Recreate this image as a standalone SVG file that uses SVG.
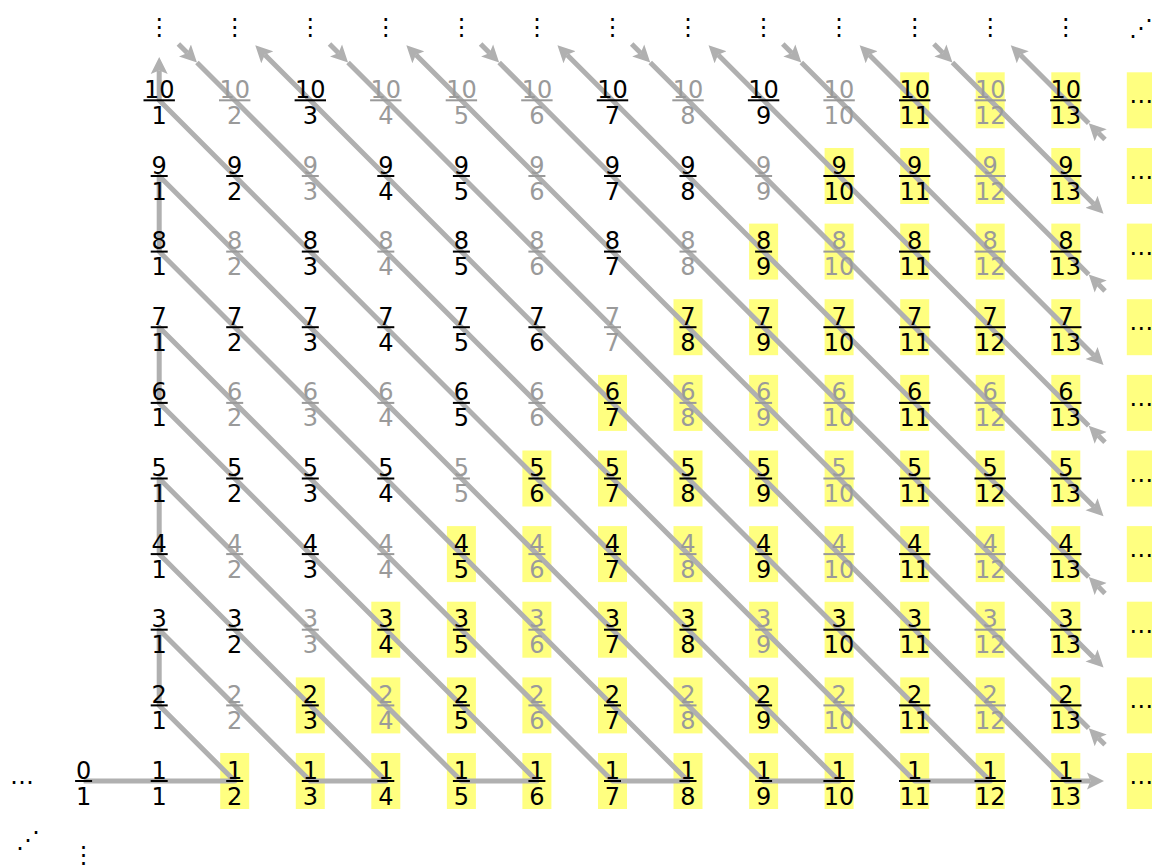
<svg xmlns="http://www.w3.org/2000/svg" xmlns:xlink="http://www.w3.org/1999/xlink" width="1152" height="866" viewBox="0 0 1152 866">
<style>
text{font-family:"DejaVu Sans",Verdana,sans-serif;font-size:24px;text-anchor:middle}
.k{fill:#000}
.g{fill:#9a9a9a}
.c{fill:none;stroke:#b0b0b0;stroke-width:5;stroke-linejoin:round}
.a{marker-end:url(#ah)}
.e{fill:#000}
</style>
<defs>
<marker id="ah" viewBox="0 -9 18 18" refX="3.5" refY="0" markerWidth="18" markerHeight="18" markerUnits="userSpaceOnUse" orient="auto"><path d="M0,-8.5 L17,0 L0,8.5 L3.5,0 Z" fill="#b0b0b0"/></marker>
<rect id="hb" x="-14.5" y="-28" width="29" height="56" fill="#ffff80"/>
<rect id="b1" x="-8.5" y="-1" width="17" height="2"/>
<rect id="b2" x="-15.7" y="-1" width="31.4" height="2"/>
</defs>
<rect width="1152" height="866" fill="#fff"/>
<g id="highlights">
<use href="#hb" x="234.7" y="781"/><use href="#hb" x="310.3" y="781"/><use href="#hb" x="385.8" y="781"/><use href="#hb" x="461.4" y="781"/><use href="#hb" x="536.9" y="781"/><use href="#hb" x="612.5" y="781"/><use href="#hb" x="688" y="781"/><use href="#hb" x="763.6" y="781"/><use href="#hb" x="839.1" y="781"/><use href="#hb" x="914.7" y="781"/><use href="#hb" x="990.2" y="781"/><use href="#hb" x="1065.8" y="781"/>
<use href="#hb" x="310.3" y="705.4"/><use href="#hb" x="385.8" y="705.4"/><use href="#hb" x="461.4" y="705.4"/><use href="#hb" x="536.9" y="705.4"/><use href="#hb" x="612.5" y="705.4"/><use href="#hb" x="688" y="705.4"/><use href="#hb" x="763.6" y="705.4"/><use href="#hb" x="839.1" y="705.4"/><use href="#hb" x="914.7" y="705.4"/><use href="#hb" x="990.2" y="705.4"/><use href="#hb" x="1065.8" y="705.4"/>
<use href="#hb" x="385.8" y="629.7"/><use href="#hb" x="461.4" y="629.7"/><use href="#hb" x="536.9" y="629.7"/><use href="#hb" x="612.5" y="629.7"/><use href="#hb" x="688" y="629.7"/><use href="#hb" x="763.6" y="629.7"/><use href="#hb" x="839.1" y="629.7"/><use href="#hb" x="914.7" y="629.7"/><use href="#hb" x="990.2" y="629.7"/><use href="#hb" x="1065.8" y="629.7"/>
<use href="#hb" x="461.4" y="554.1"/><use href="#hb" x="536.9" y="554.1"/><use href="#hb" x="612.5" y="554.1"/><use href="#hb" x="688" y="554.1"/><use href="#hb" x="763.6" y="554.1"/><use href="#hb" x="839.1" y="554.1"/><use href="#hb" x="914.7" y="554.1"/><use href="#hb" x="990.2" y="554.1"/><use href="#hb" x="1065.8" y="554.1"/>
<use href="#hb" x="536.9" y="478.5"/><use href="#hb" x="612.5" y="478.5"/><use href="#hb" x="688" y="478.5"/><use href="#hb" x="763.6" y="478.5"/><use href="#hb" x="839.1" y="478.5"/><use href="#hb" x="914.7" y="478.5"/><use href="#hb" x="990.2" y="478.5"/><use href="#hb" x="1065.8" y="478.5"/>
<use href="#hb" x="612.5" y="402.9"/><use href="#hb" x="688" y="402.9"/><use href="#hb" x="763.6" y="402.9"/><use href="#hb" x="839.1" y="402.9"/><use href="#hb" x="914.7" y="402.9"/><use href="#hb" x="990.2" y="402.9"/><use href="#hb" x="1065.8" y="402.9"/>
<use href="#hb" x="688" y="327.2"/><use href="#hb" x="763.6" y="327.2"/><use href="#hb" x="839.1" y="327.2"/><use href="#hb" x="914.7" y="327.2"/><use href="#hb" x="990.2" y="327.2"/><use href="#hb" x="1065.8" y="327.2"/>
<use href="#hb" x="763.6" y="251.6"/><use href="#hb" x="839.1" y="251.6"/><use href="#hb" x="914.7" y="251.6"/><use href="#hb" x="990.2" y="251.6"/><use href="#hb" x="1065.8" y="251.6"/>
<use href="#hb" x="839.1" y="176"/><use href="#hb" x="914.7" y="176"/><use href="#hb" x="990.2" y="176"/><use href="#hb" x="1065.8" y="176"/>
<use href="#hb" x="914.7" y="100.3"/><use href="#hb" x="990.2" y="100.3"/><use href="#hb" x="1065.8" y="100.3"/>
<use href="#hb" x="1141.3" y="781"/><use href="#hb" x="1141.3" y="705.4"/><use href="#hb" x="1141.3" y="629.7"/><use href="#hb" x="1141.3" y="554.1"/><use href="#hb" x="1141.3" y="478.5"/><use href="#hb" x="1141.3" y="402.9"/><use href="#hb" x="1141.3" y="327.2"/><use href="#hb" x="1141.3" y="251.6"/><use href="#hb" x="1141.3" y="176"/><use href="#hb" x="1141.3" y="100.3"/>
</g>
<g id="connectors">
<path class="c a" d="M83.6,781 L159.2,781 L234.7,781 L159.2,705.4 L159.2,629.7 L310.3,781 L385.8,781 L159.2,554.1 L159.2,478.5 L461.4,781 L536.9,781 L159.2,402.9 L159.2,327.2 L612.5,781 L688,781 L159.2,251.6 L159.2,176 L763.6,781 L839.1,781 L159.2,100.3 L159.2,70.5"/>
<path class="c a" d="M178.4,44 L187.4,53"/>
<path class="c a" d="M196.95,62.5 L234.7,100.3 L914.7,781 L990.2,781 L310.3,100.3 L264.8,54.8"/>
<path class="c a" d="M329.5,44 L338.5,53"/>
<path class="c a" d="M348.05,62.5 L385.8,100.3 L1065.8,781 L1090.5,781"/>
<path class="c a" d="M1105,744.7 L1098.25,737.9"/>
<path class="c a" d="M1088.7,728.35 L1065.8,705.4 L461.4,100.3 L415.9,54.8"/>
<path class="c a" d="M480.6,44 L489.6,53"/>
<path class="c a" d="M499.15,62.5 L536.9,100.3 L1065.8,629.7 L1094,657.95"/>
<path class="c a" d="M1105,593.4 L1098.25,586.6"/>
<path class="c a" d="M1088.7,577.05 L1065.8,554.1 L612.5,100.3 L567,54.8"/>
<path class="c a" d="M631.7,44 L640.7,53"/>
<path class="c a" d="M650.25,62.5 L688,100.3 L1065.8,478.5 L1094,506.75"/>
<path class="c a" d="M1105,442.2 L1098.25,435.4"/>
<path class="c a" d="M1088.7,425.85 L1065.8,402.9 L763.6,100.3 L718.1,54.8"/>
<path class="c a" d="M782.8,44 L791.8,53"/>
<path class="c a" d="M801.35,62.5 L839.1,100.3 L1065.8,327.2 L1094,355.45"/>
<path class="c a" d="M1105,290.9 L1098.25,284.1"/>
<path class="c a" d="M1088.7,274.55 L1065.8,251.6 L914.7,100.3 L869.2,54.8"/>
<path class="c a" d="M933.9,44 L942.9,53"/>
<path class="c a" d="M952.45,62.5 L990.2,100.3 L1065.8,176 L1094,204.25"/>
<path class="c a" d="M1105,139.6 L1098.25,132.8"/>
<path class="c a" d="M1088.7,123.25 L1065.8,100.3 L1020.3,54.8"/>
</g>
<g id="f0-1" class="k" transform="translate(83.6,781)"><text y="-2.5">0</text><use href="#b1"/><text y="23.5">1</text></g>
<g id="row1">
<g id="f1-1" class="k" transform="translate(159.2,781)"><text y="-2.5">1</text><use href="#b1"/><text y="23.5">1</text></g>
<g id="f1-2" class="k" transform="translate(234.7,781)"><text y="-2.5">1</text><use href="#b1"/><text y="23.5">2</text></g>
<g id="f1-3" class="k" transform="translate(310.3,781)"><text y="-2.5">1</text><use href="#b1"/><text y="23.5">3</text></g>
<g id="f1-4" class="k" transform="translate(385.8,781)"><text y="-2.5">1</text><use href="#b1"/><text y="23.5">4</text></g>
<g id="f1-5" class="k" transform="translate(461.4,781)"><text y="-2.5">1</text><use href="#b1"/><text y="23.5">5</text></g>
<g id="f1-6" class="k" transform="translate(536.9,781)"><text y="-2.5">1</text><use href="#b1"/><text y="23.5">6</text></g>
<g id="f1-7" class="k" transform="translate(612.5,781)"><text y="-2.5">1</text><use href="#b1"/><text y="23.5">7</text></g>
<g id="f1-8" class="k" transform="translate(688,781)"><text y="-2.5">1</text><use href="#b1"/><text y="23.5">8</text></g>
<g id="f1-9" class="k" transform="translate(763.6,781)"><text y="-2.5">1</text><use href="#b1"/><text y="23.5">9</text></g>
<g id="f1-10" class="k" transform="translate(839.1,781)"><text y="-2.5">1</text><use href="#b2"/><text y="23.5">10</text></g>
<g id="f1-11" class="k" transform="translate(914.7,781)"><text y="-2.5">1</text><use href="#b2"/><text y="23.5">11</text></g>
<g id="f1-12" class="k" transform="translate(990.2,781)"><text y="-2.5">1</text><use href="#b2"/><text y="23.5">12</text></g>
<g id="f1-13" class="k" transform="translate(1065.8,781)"><text y="-2.5">1</text><use href="#b2"/><text y="23.5">13</text></g>
</g>
<g id="row2">
<g id="f2-1" class="k" transform="translate(159.2,705.4)"><text y="-2.5">2</text><use href="#b1"/><text y="23.5">1</text></g>
<g id="f2-2" class="g" transform="translate(234.7,705.4)"><text y="-2.5">2</text><use href="#b1"/><text y="23.5">2</text></g>
<g id="f2-3" class="k" transform="translate(310.3,705.4)"><text y="-2.5">2</text><use href="#b1"/><text y="23.5">3</text></g>
<g id="f2-4" class="g" transform="translate(385.8,705.4)"><text y="-2.5">2</text><use href="#b1"/><text y="23.5">4</text></g>
<g id="f2-5" class="k" transform="translate(461.4,705.4)"><text y="-2.5">2</text><use href="#b1"/><text y="23.5">5</text></g>
<g id="f2-6" class="g" transform="translate(536.9,705.4)"><text y="-2.5">2</text><use href="#b1"/><text y="23.5">6</text></g>
<g id="f2-7" class="k" transform="translate(612.5,705.4)"><text y="-2.5">2</text><use href="#b1"/><text y="23.5">7</text></g>
<g id="f2-8" class="g" transform="translate(688,705.4)"><text y="-2.5">2</text><use href="#b1"/><text y="23.5">8</text></g>
<g id="f2-9" class="k" transform="translate(763.6,705.4)"><text y="-2.5">2</text><use href="#b1"/><text y="23.5">9</text></g>
<g id="f2-10" class="g" transform="translate(839.1,705.4)"><text y="-2.5">2</text><use href="#b2"/><text y="23.5">10</text></g>
<g id="f2-11" class="k" transform="translate(914.7,705.4)"><text y="-2.5">2</text><use href="#b2"/><text y="23.5">11</text></g>
<g id="f2-12" class="g" transform="translate(990.2,705.4)"><text y="-2.5">2</text><use href="#b2"/><text y="23.5">12</text></g>
<g id="f2-13" class="k" transform="translate(1065.8,705.4)"><text y="-2.5">2</text><use href="#b2"/><text y="23.5">13</text></g>
</g>
<g id="row3">
<g id="f3-1" class="k" transform="translate(159.2,629.7)"><text y="-2.5">3</text><use href="#b1"/><text y="23.5">1</text></g>
<g id="f3-2" class="k" transform="translate(234.7,629.7)"><text y="-2.5">3</text><use href="#b1"/><text y="23.5">2</text></g>
<g id="f3-3" class="g" transform="translate(310.3,629.7)"><text y="-2.5">3</text><use href="#b1"/><text y="23.5">3</text></g>
<g id="f3-4" class="k" transform="translate(385.8,629.7)"><text y="-2.5">3</text><use href="#b1"/><text y="23.5">4</text></g>
<g id="f3-5" class="k" transform="translate(461.4,629.7)"><text y="-2.5">3</text><use href="#b1"/><text y="23.5">5</text></g>
<g id="f3-6" class="g" transform="translate(536.9,629.7)"><text y="-2.5">3</text><use href="#b1"/><text y="23.5">6</text></g>
<g id="f3-7" class="k" transform="translate(612.5,629.7)"><text y="-2.5">3</text><use href="#b1"/><text y="23.5">7</text></g>
<g id="f3-8" class="k" transform="translate(688,629.7)"><text y="-2.5">3</text><use href="#b1"/><text y="23.5">8</text></g>
<g id="f3-9" class="g" transform="translate(763.6,629.7)"><text y="-2.5">3</text><use href="#b1"/><text y="23.5">9</text></g>
<g id="f3-10" class="k" transform="translate(839.1,629.7)"><text y="-2.5">3</text><use href="#b2"/><text y="23.5">10</text></g>
<g id="f3-11" class="k" transform="translate(914.7,629.7)"><text y="-2.5">3</text><use href="#b2"/><text y="23.5">11</text></g>
<g id="f3-12" class="g" transform="translate(990.2,629.7)"><text y="-2.5">3</text><use href="#b2"/><text y="23.5">12</text></g>
<g id="f3-13" class="k" transform="translate(1065.8,629.7)"><text y="-2.5">3</text><use href="#b2"/><text y="23.5">13</text></g>
</g>
<g id="row4">
<g id="f4-1" class="k" transform="translate(159.2,554.1)"><text y="-2.5">4</text><use href="#b1"/><text y="23.5">1</text></g>
<g id="f4-2" class="g" transform="translate(234.7,554.1)"><text y="-2.5">4</text><use href="#b1"/><text y="23.5">2</text></g>
<g id="f4-3" class="k" transform="translate(310.3,554.1)"><text y="-2.5">4</text><use href="#b1"/><text y="23.5">3</text></g>
<g id="f4-4" class="g" transform="translate(385.8,554.1)"><text y="-2.5">4</text><use href="#b1"/><text y="23.5">4</text></g>
<g id="f4-5" class="k" transform="translate(461.4,554.1)"><text y="-2.5">4</text><use href="#b1"/><text y="23.5">5</text></g>
<g id="f4-6" class="g" transform="translate(536.9,554.1)"><text y="-2.5">4</text><use href="#b1"/><text y="23.5">6</text></g>
<g id="f4-7" class="k" transform="translate(612.5,554.1)"><text y="-2.5">4</text><use href="#b1"/><text y="23.5">7</text></g>
<g id="f4-8" class="g" transform="translate(688,554.1)"><text y="-2.5">4</text><use href="#b1"/><text y="23.5">8</text></g>
<g id="f4-9" class="k" transform="translate(763.6,554.1)"><text y="-2.5">4</text><use href="#b1"/><text y="23.5">9</text></g>
<g id="f4-10" class="g" transform="translate(839.1,554.1)"><text y="-2.5">4</text><use href="#b2"/><text y="23.5">10</text></g>
<g id="f4-11" class="k" transform="translate(914.7,554.1)"><text y="-2.5">4</text><use href="#b2"/><text y="23.5">11</text></g>
<g id="f4-12" class="g" transform="translate(990.2,554.1)"><text y="-2.5">4</text><use href="#b2"/><text y="23.5">12</text></g>
<g id="f4-13" class="k" transform="translate(1065.8,554.1)"><text y="-2.5">4</text><use href="#b2"/><text y="23.5">13</text></g>
</g>
<g id="row5">
<g id="f5-1" class="k" transform="translate(159.2,478.5)"><text y="-2.5">5</text><use href="#b1"/><text y="23.5">1</text></g>
<g id="f5-2" class="k" transform="translate(234.7,478.5)"><text y="-2.5">5</text><use href="#b1"/><text y="23.5">2</text></g>
<g id="f5-3" class="k" transform="translate(310.3,478.5)"><text y="-2.5">5</text><use href="#b1"/><text y="23.5">3</text></g>
<g id="f5-4" class="k" transform="translate(385.8,478.5)"><text y="-2.5">5</text><use href="#b1"/><text y="23.5">4</text></g>
<g id="f5-5" class="g" transform="translate(461.4,478.5)"><text y="-2.5">5</text><use href="#b1"/><text y="23.5">5</text></g>
<g id="f5-6" class="k" transform="translate(536.9,478.5)"><text y="-2.5">5</text><use href="#b1"/><text y="23.5">6</text></g>
<g id="f5-7" class="k" transform="translate(612.5,478.5)"><text y="-2.5">5</text><use href="#b1"/><text y="23.5">7</text></g>
<g id="f5-8" class="k" transform="translate(688,478.5)"><text y="-2.5">5</text><use href="#b1"/><text y="23.5">8</text></g>
<g id="f5-9" class="k" transform="translate(763.6,478.5)"><text y="-2.5">5</text><use href="#b1"/><text y="23.5">9</text></g>
<g id="f5-10" class="g" transform="translate(839.1,478.5)"><text y="-2.5">5</text><use href="#b2"/><text y="23.5">10</text></g>
<g id="f5-11" class="k" transform="translate(914.7,478.5)"><text y="-2.5">5</text><use href="#b2"/><text y="23.5">11</text></g>
<g id="f5-12" class="k" transform="translate(990.2,478.5)"><text y="-2.5">5</text><use href="#b2"/><text y="23.5">12</text></g>
<g id="f5-13" class="k" transform="translate(1065.8,478.5)"><text y="-2.5">5</text><use href="#b2"/><text y="23.5">13</text></g>
</g>
<g id="row6">
<g id="f6-1" class="k" transform="translate(159.2,402.9)"><text y="-2.5">6</text><use href="#b1"/><text y="23.5">1</text></g>
<g id="f6-2" class="g" transform="translate(234.7,402.9)"><text y="-2.5">6</text><use href="#b1"/><text y="23.5">2</text></g>
<g id="f6-3" class="g" transform="translate(310.3,402.9)"><text y="-2.5">6</text><use href="#b1"/><text y="23.5">3</text></g>
<g id="f6-4" class="g" transform="translate(385.8,402.9)"><text y="-2.5">6</text><use href="#b1"/><text y="23.5">4</text></g>
<g id="f6-5" class="k" transform="translate(461.4,402.9)"><text y="-2.5">6</text><use href="#b1"/><text y="23.5">5</text></g>
<g id="f6-6" class="g" transform="translate(536.9,402.9)"><text y="-2.5">6</text><use href="#b1"/><text y="23.5">6</text></g>
<g id="f6-7" class="k" transform="translate(612.5,402.9)"><text y="-2.5">6</text><use href="#b1"/><text y="23.5">7</text></g>
<g id="f6-8" class="g" transform="translate(688,402.9)"><text y="-2.5">6</text><use href="#b1"/><text y="23.5">8</text></g>
<g id="f6-9" class="g" transform="translate(763.6,402.9)"><text y="-2.5">6</text><use href="#b1"/><text y="23.5">9</text></g>
<g id="f6-10" class="g" transform="translate(839.1,402.9)"><text y="-2.5">6</text><use href="#b2"/><text y="23.5">10</text></g>
<g id="f6-11" class="k" transform="translate(914.7,402.9)"><text y="-2.5">6</text><use href="#b2"/><text y="23.5">11</text></g>
<g id="f6-12" class="g" transform="translate(990.2,402.9)"><text y="-2.5">6</text><use href="#b2"/><text y="23.5">12</text></g>
<g id="f6-13" class="k" transform="translate(1065.8,402.9)"><text y="-2.5">6</text><use href="#b2"/><text y="23.5">13</text></g>
</g>
<g id="row7">
<g id="f7-1" class="k" transform="translate(159.2,327.2)"><text y="-2.5">7</text><use href="#b1"/><text y="23.5">1</text></g>
<g id="f7-2" class="k" transform="translate(234.7,327.2)"><text y="-2.5">7</text><use href="#b1"/><text y="23.5">2</text></g>
<g id="f7-3" class="k" transform="translate(310.3,327.2)"><text y="-2.5">7</text><use href="#b1"/><text y="23.5">3</text></g>
<g id="f7-4" class="k" transform="translate(385.8,327.2)"><text y="-2.5">7</text><use href="#b1"/><text y="23.5">4</text></g>
<g id="f7-5" class="k" transform="translate(461.4,327.2)"><text y="-2.5">7</text><use href="#b1"/><text y="23.5">5</text></g>
<g id="f7-6" class="k" transform="translate(536.9,327.2)"><text y="-2.5">7</text><use href="#b1"/><text y="23.5">6</text></g>
<g id="f7-7" class="g" transform="translate(612.5,327.2)"><text y="-2.5">7</text><use href="#b1"/><text y="23.5">7</text></g>
<g id="f7-8" class="k" transform="translate(688,327.2)"><text y="-2.5">7</text><use href="#b1"/><text y="23.5">8</text></g>
<g id="f7-9" class="k" transform="translate(763.6,327.2)"><text y="-2.5">7</text><use href="#b1"/><text y="23.5">9</text></g>
<g id="f7-10" class="k" transform="translate(839.1,327.2)"><text y="-2.5">7</text><use href="#b2"/><text y="23.5">10</text></g>
<g id="f7-11" class="k" transform="translate(914.7,327.2)"><text y="-2.5">7</text><use href="#b2"/><text y="23.5">11</text></g>
<g id="f7-12" class="k" transform="translate(990.2,327.2)"><text y="-2.5">7</text><use href="#b2"/><text y="23.5">12</text></g>
<g id="f7-13" class="k" transform="translate(1065.8,327.2)"><text y="-2.5">7</text><use href="#b2"/><text y="23.5">13</text></g>
</g>
<g id="row8">
<g id="f8-1" class="k" transform="translate(159.2,251.6)"><text y="-2.5">8</text><use href="#b1"/><text y="23.5">1</text></g>
<g id="f8-2" class="g" transform="translate(234.7,251.6)"><text y="-2.5">8</text><use href="#b1"/><text y="23.5">2</text></g>
<g id="f8-3" class="k" transform="translate(310.3,251.6)"><text y="-2.5">8</text><use href="#b1"/><text y="23.5">3</text></g>
<g id="f8-4" class="g" transform="translate(385.8,251.6)"><text y="-2.5">8</text><use href="#b1"/><text y="23.5">4</text></g>
<g id="f8-5" class="k" transform="translate(461.4,251.6)"><text y="-2.5">8</text><use href="#b1"/><text y="23.5">5</text></g>
<g id="f8-6" class="g" transform="translate(536.9,251.6)"><text y="-2.5">8</text><use href="#b1"/><text y="23.5">6</text></g>
<g id="f8-7" class="k" transform="translate(612.5,251.6)"><text y="-2.5">8</text><use href="#b1"/><text y="23.5">7</text></g>
<g id="f8-8" class="g" transform="translate(688,251.6)"><text y="-2.5">8</text><use href="#b1"/><text y="23.5">8</text></g>
<g id="f8-9" class="k" transform="translate(763.6,251.6)"><text y="-2.5">8</text><use href="#b1"/><text y="23.5">9</text></g>
<g id="f8-10" class="g" transform="translate(839.1,251.6)"><text y="-2.5">8</text><use href="#b2"/><text y="23.5">10</text></g>
<g id="f8-11" class="k" transform="translate(914.7,251.6)"><text y="-2.5">8</text><use href="#b2"/><text y="23.5">11</text></g>
<g id="f8-12" class="g" transform="translate(990.2,251.6)"><text y="-2.5">8</text><use href="#b2"/><text y="23.5">12</text></g>
<g id="f8-13" class="k" transform="translate(1065.8,251.6)"><text y="-2.5">8</text><use href="#b2"/><text y="23.5">13</text></g>
</g>
<g id="row9">
<g id="f9-1" class="k" transform="translate(159.2,176)"><text y="-2.5">9</text><use href="#b1"/><text y="23.5">1</text></g>
<g id="f9-2" class="k" transform="translate(234.7,176)"><text y="-2.5">9</text><use href="#b1"/><text y="23.5">2</text></g>
<g id="f9-3" class="g" transform="translate(310.3,176)"><text y="-2.5">9</text><use href="#b1"/><text y="23.5">3</text></g>
<g id="f9-4" class="k" transform="translate(385.8,176)"><text y="-2.5">9</text><use href="#b1"/><text y="23.5">4</text></g>
<g id="f9-5" class="k" transform="translate(461.4,176)"><text y="-2.5">9</text><use href="#b1"/><text y="23.5">5</text></g>
<g id="f9-6" class="g" transform="translate(536.9,176)"><text y="-2.5">9</text><use href="#b1"/><text y="23.5">6</text></g>
<g id="f9-7" class="k" transform="translate(612.5,176)"><text y="-2.5">9</text><use href="#b1"/><text y="23.5">7</text></g>
<g id="f9-8" class="k" transform="translate(688,176)"><text y="-2.5">9</text><use href="#b1"/><text y="23.5">8</text></g>
<g id="f9-9" class="g" transform="translate(763.6,176)"><text y="-2.5">9</text><use href="#b1"/><text y="23.5">9</text></g>
<g id="f9-10" class="k" transform="translate(839.1,176)"><text y="-2.5">9</text><use href="#b2"/><text y="23.5">10</text></g>
<g id="f9-11" class="k" transform="translate(914.7,176)"><text y="-2.5">9</text><use href="#b2"/><text y="23.5">11</text></g>
<g id="f9-12" class="g" transform="translate(990.2,176)"><text y="-2.5">9</text><use href="#b2"/><text y="23.5">12</text></g>
<g id="f9-13" class="k" transform="translate(1065.8,176)"><text y="-2.5">9</text><use href="#b2"/><text y="23.5">13</text></g>
</g>
<g id="row10">
<g id="f10-1" class="k" transform="translate(159.2,100.3)"><text y="-2.5">10</text><use href="#b2"/><text y="23.5">1</text></g>
<g id="f10-2" class="g" transform="translate(234.7,100.3)"><text y="-2.5">10</text><use href="#b2"/><text y="23.5">2</text></g>
<g id="f10-3" class="k" transform="translate(310.3,100.3)"><text y="-2.5">10</text><use href="#b2"/><text y="23.5">3</text></g>
<g id="f10-4" class="g" transform="translate(385.8,100.3)"><text y="-2.5">10</text><use href="#b2"/><text y="23.5">4</text></g>
<g id="f10-5" class="g" transform="translate(461.4,100.3)"><text y="-2.5">10</text><use href="#b2"/><text y="23.5">5</text></g>
<g id="f10-6" class="g" transform="translate(536.9,100.3)"><text y="-2.5">10</text><use href="#b2"/><text y="23.5">6</text></g>
<g id="f10-7" class="k" transform="translate(612.5,100.3)"><text y="-2.5">10</text><use href="#b2"/><text y="23.5">7</text></g>
<g id="f10-8" class="g" transform="translate(688,100.3)"><text y="-2.5">10</text><use href="#b2"/><text y="23.5">8</text></g>
<g id="f10-9" class="k" transform="translate(763.6,100.3)"><text y="-2.5">10</text><use href="#b2"/><text y="23.5">9</text></g>
<g id="f10-10" class="g" transform="translate(839.1,100.3)"><text y="-2.5">10</text><use href="#b2"/><text y="23.5">10</text></g>
<g id="f10-11" class="k" transform="translate(914.7,100.3)"><text y="-2.5">10</text><use href="#b2"/><text y="23.5">11</text></g>
<g id="f10-12" class="g" transform="translate(990.2,100.3)"><text y="-2.5">10</text><use href="#b2"/><text y="23.5">12</text></g>
<g id="f10-13" class="k" transform="translate(1065.8,100.3)"><text y="-2.5">10</text><use href="#b2"/><text y="23.5">13</text></g>
</g>
<g id="ellipses" class="e">
<text x="22" y="784">…</text>
<text x="1141.3" y="784">…</text><text x="1141.3" y="708.4">…</text><text x="1141.3" y="632.7">…</text><text x="1141.3" y="557.1">…</text><text x="1141.3" y="481.5">…</text><text x="1141.3" y="405.9">…</text><text x="1141.3" y="330.2">…</text><text x="1141.3" y="254.6">…</text><text x="1141.3" y="179">…</text><text x="1141.3" y="103.3">…</text>
<text x="159.2" y="35">⋮</text><text x="234.7" y="35">⋮</text><text x="310.3" y="35">⋮</text><text x="385.8" y="35">⋮</text><text x="461.4" y="35">⋮</text><text x="536.9" y="35">⋮</text><text x="612.5" y="35">⋮</text><text x="688" y="35">⋮</text><text x="763.6" y="35">⋮</text><text x="839.1" y="35">⋮</text><text x="914.7" y="35">⋮</text><text x="990.2" y="35">⋮</text><text x="1065.8" y="35">⋮</text>
<text x="83.6" y="863">⋮</text>
<text x="1141" y="36">⋰</text>
<text x="28" y="848">⋰</text>
</g>
</svg>
